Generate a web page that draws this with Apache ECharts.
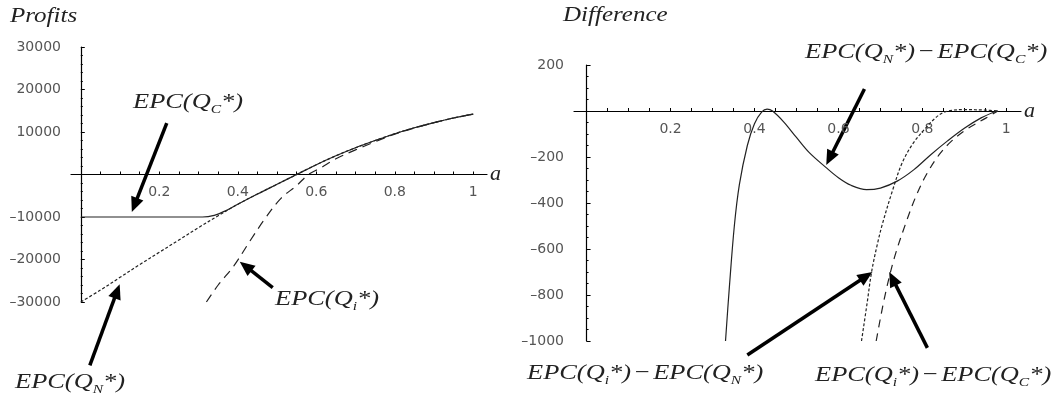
<!DOCTYPE html>
<html>
<head>
<meta charset="utf-8">
<script src="https://cdn.jsdelivr.net/npm/echarts@6/dist/echarts.min.js"></script>
<style>
html, body { margin: 0; padding: 0; background: #fff; }
#main { width: 1055px; height: 407px; }
</style>
</head>
<body>
<div id="main"></div>
<script>
// left panel: profits against a
var aQN = [0, 0.05, 0.1, 0.15, 0.2, 0.25, 0.3, 0.35, 0.4, 0.45, 0.5, 0.55, 0.6, 0.65, 0.7, 0.75, 0.8, 0.85, 0.9, 0.95, 1];
var profitQN = [-30000, -27200, -24200, -21200, -18300, -15400, -12500, -9700, -7000, -4600, -2300, 0, 2300, 4400, 6300, 8000, 9600, 11000, 12200, 13300, 14200];

var aQc = [0, 0.31, 0.34, 0.37, 0.4, 0.45, 0.5, 0.55, 0.6, 0.65, 0.7, 0.75, 0.8, 0.85, 0.9, 0.95, 1];
var profitQc = [-10000, -10000, -9600, -8500, -7000, -4600, -2300, 0, 2300, 4400, 6300, 8000, 9600, 11000, 12200, 13300, 14200];

var aQi = [0.32, 0.35, 0.39, 0.43, 0.47, 0.51, 0.55, 0.58, 0.61, 0.65, 0.7, 0.75, 0.8, 0.85, 0.9, 0.95, 1];
var profitQi = [-30000, -26000, -21500, -15800, -10300, -5600, -2600, 0, 1500, 3700, 5800, 7700, 9500, 10950, 12200, 13300, 14200];

// right panel: differences
var aNC = [0.331, 0.34, 0.352, 0.364, 0.383, 0.4, 0.417, 0.43, 0.443, 0.47, 0.5, 0.53, 0.57, 0.6, 0.63, 0.667, 0.7, 0.74, 0.78, 0.82, 0.86, 0.9, 0.94, 0.97, 0.98];
var diffNC = [-1000, -770, -500, -320, -150, -55, -5, 8, 0, -48, -115, -180, -245, -290, -323, -342, -335, -305, -255, -190, -130, -75, -30, -5, 0];

var aIN = [0.655, 0.668, 0.679, 0.692, 0.705, 0.729, 0.752, 0.78, 0.81, 0.83, 0.848, 0.87, 0.9, 0.95, 0.98];
var diffIN = [-1000, -840, -700, -585, -490, -345, -225, -135, -70, -32, -8, 3, 6, 4, 0];

var aIC = [0.69, 0.71, 0.733, 0.762, 0.786, 0.81, 0.84, 0.87, 0.905, 0.95, 0.98];
var diffIC = [-1000, -810, -640, -480, -365, -275, -190, -130, -80, -32, 0];

var xTickLabels = [0.2, 0.4, 0.6, 0.8, 1];
var xTicks = [0.05, 0.1, 0.15, 0.2, 0.25, 0.3, 0.35, 0.4, 0.45, 0.5, 0.55, 0.6, 0.65, 0.7, 0.75, 0.8, 0.85, 0.9, 0.95, 1];

var serif = "'Liberation Serif', 'Times New Roman', serif";
var sans = "'DejaVu Sans', sans-serif";
var axisColor = { color: '#000', width: 1.2 };

function pairs(xs, ys) {
  return xs.map(function (x, i) { return [x, ys[i]]; });
}

function yLabel(v) {
  return v === 0 ? '' : String(v).replace('-', '\u2013');
}

// x axis is pulled up from the grid bottom to the y = 0 line
function xAxisOf(grid, min, max, offset) {
  return {
    type: 'value', gridIndex: grid, min: min, max: max, offset: offset,
    name: 'a', nameLocation: 'end', nameGap: 3,
    nameTextStyle: { fontFamily: serif, fontStyle: 'italic', fontSize: 22, color: '#222', padding: [0, 0, 4, 0] },
    axisLine: { onZero: false, lineStyle: axisColor },
    axisTick: { inside: true, length: 3, customValues: xTicks, lineStyle: { color: '#000' } },
    axisLabel: { customValues: xTickLabels, margin: 11, fontFamily: sans, fontSize: 14, color: '#555' },
    splitLine: { show: false }
  };
}

function yAxisOf(grid, min, max, step, minor) {
  return {
    type: 'value', gridIndex: grid, min: min, max: max, interval: step,
    axisLine: { onZero: true, lineStyle: axisColor },
    axisTick: { inside: true, length: 4, lineStyle: { color: '#000' } },
    minorTick: { show: true, splitNumber: minor, length: 2, lineStyle: { color: '#000' } },
    axisLabel: { formatter: yLabel, margin: 10, fontFamily: sans, fontSize: 14, color: '#555' },
    splitLine: { show: false }
  };
}

function curve(grid, data, dash) {
  return {
    type: 'line', xAxisIndex: grid, yAxisIndex: grid, data: data,
    showSymbol: false, symbol: 'none', smooth: 0.35, silent: true,
    lineStyle: { color: '#222', width: 1.2, type: dash }
  };
}

option = {
  animation: false,
  backgroundColor: '#fff',
  grid: [
    { left: 71, top: 47, width: 416, height: 255, outerBoundsMode: 'none' },
    { left: 574, top: 65, width: 447, height: 276, outerBoundsMode: 'none' }
  ],
  xAxis: [xAxisOf(0, -0.025, 1.035, -127.5), xAxisOf(1, -0.03, 1.035, -230)],
  yAxis: [yAxisOf(0, -30000, 30000, 10000, 5), yAxisOf(1, -1000, 200, 200, 4)],
  series: [
    curve(0, pairs(aQc, profitQc), 'solid'),
    curve(0, pairs(aQN, profitQN), [3, 2]),
    curve(0, pairs(aQi, profitQi), [9, 6]),
    curve(1, pairs(aNC, diffNC), 'solid'),
    curve(1, pairs(aIN, diffIN), [3, 2]),
    curve(1, pairs(aIC, diffIC), [8, 6])
  ]
};

var myChart = echarts.init(document.getElementById('main'));
myChart.setOption(option);

// annotations: arrows given in data coordinates, labels in page pixels
function px(grid, p) {
  return myChart.convertToPixel({ gridIndex: grid }, p);
}

function arrow(grid, from, to) {
  var a = px(grid, from), b = px(grid, to);
  var dx = b[0] - a[0], dy = b[1] - a[1];
  var len = Math.sqrt(dx * dx + dy * dy);
  var ux = dx / len, uy = dy / len, hl = 15, hw = 6.5;
  var bx = b[0] - ux * hl, by = b[1] - uy * hl;
  return [
    { type: 'line', silent: true, shape: { x1: a[0], y1: a[1], x2: bx + ux * 2, y2: by + uy * 2 }, style: { stroke: '#000', lineWidth: 3.5 } },
    { type: 'polygon', silent: true, shape: { points: [[b[0], b[1]], [bx - uy * hw, by + ux * hw], [bx + uy * hw, by - ux * hw]] }, style: { fill: '#000' } }
  ];
}

var rich = {
  m: { fontFamily: serif, fontStyle: 'italic', fontSize: 22, lineHeight: 26, fill: '#222' },
  s: { fontFamily: serif, fontStyle: 'italic', fontSize: 13, lineHeight: 26, verticalAlign: 'top', padding: [14, 0, 0, 0], fill: '#222' },
  g: { fontFamily: serif, fontSize: 22, lineHeight: 26, padding: [0, 3, 0, 3], fill: '#222' }
};

function epc(sub) {
  return '{m|EPC(Q}{s|' + sub + '}{m|*)}';
}

function label(x, y, text) {
  return { type: 'text', silent: true, x: x, y: y, scaleX: 1.2, style: { text: text, rich: rich, align: 'left', verticalAlign: 'top', fill: '#222' } };
}

function title(x, y, text) {
  return { type: 'text', silent: true, x: x, y: y, scaleX: 1.25, style: { text: text, fontFamily: serif, fontStyle: 'italic', fontSize: 20, fill: '#222', align: 'left', verticalAlign: 'top' } };
}

var graphics = [].concat(
  arrow(0, [0.219, 12100], [0.130, -8840]),
  arrow(0, [0.023, -44900], [0.099, -25800]),
  arrow(0, [0.489, -26600], [0.405, -20500]),
  arrow(1, [0.662, 96], [0.571, -235]),
  arrow(1, [0.383, -1061], [0.681, -700]),
  arrow(1, [0.812, -1030], [0.721, -700]),
  [
    title(10, 7, 'Profits'),
    title(563, 6, 'Difference'),
    label(133, 89, epc('C')),
    label(15, 369, epc('N')),
    label(275, 286, epc('i')),
    label(805, 39, epc('N') + '{g|\u2212}' + epc('C')),
    label(527, 360, epc('i') + '{g|\u2212}' + epc('N')),
    label(815, 362, epc('i') + '{g|\u2212}' + epc('C'))
  ]
);

myChart.setOption({ graphic: graphics });
</script>
</body>
</html>
